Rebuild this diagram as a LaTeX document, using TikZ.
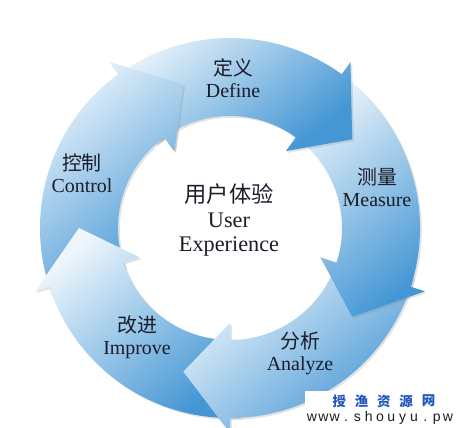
\documentclass[tikz,border=0pt]{standalone}
\usepackage{fontspec}
\setmainfont{Liberation Serif}
\newfontfamily\zhfont{Noto Sans CJK SC}
\newfontfamily\urlfont{Liberation Sans}
\usetikzlibrary{shadows}

\definecolor{palebl}{RGB}{238,246,252}
\definecolor{midbl}{RGB}{68,150,212}
\definecolor{txt}{RGB}{28,28,40}
\definecolor{wmbl}{RGB}{34,86,190}

\newcommand{\ringarrow}[1]{({#1+75}:190) arc[start angle={#1+75}, end angle={#1}, radius=190]
  -- ({#1}:205) -- ({#1-18}:151) -- ({#1}:95) -- ({#1}:112)
  arc[start angle={#1}, end angle={#1+75}, radius=112] -- cycle}

\begin{document}
\begin{tikzpicture}[x=0.03cm, y=0.03cm,
  arw/.style={top color=palebl, bottom color=midbl, shading angle=40,
    drop shadow={opacity=.22, shadow xshift=1.5pt, shadow yshift=-1.5pt}},
  lbl/.style={align=center, text=txt, font=\fontsize{17}{19}\selectfont},
  mid/.style={align=center, text=txt, font=\fontsize{19}{21}\selectfont}]
\useasboundingbox (-230,-199) rectangle (228,228);
% five arrows, the last one drawn on top
\foreach \b in {126,198,270,342,414}{
  \path[arw] \ringarrow{\b};
}
% head of the control arrow over the tail of define
\begin{scope}
\clip (0,0) -- (100:260) arc[start angle=100, end angle=131, radius=260] -- cycle;
\path[arw] \ringarrow{126};
\end{scope}

\node[lbl] (def) at (3,150) {{\zhfont 定义}\\Define};
\node[lbl] (mea) at (147,41) {{\zhfont 测量}\\Measure};
\node[lbl] (ana) at (70,-125) {{\zhfont 分析}\\Analyze};
\node[lbl] (imp) at (-93,-109) {{\zhfont 改进}\\Improve};
\node[lbl] (con) at (-148,55) {{\zhfont 控制}\\Control};
\node[mid] (ux) at (-1,8) {{\zhfont 用户体验}\\User\\Experience};

% watermark
\fill[white] (75,-163) rectangle (228,-199);
\foreach \c [count=\i] in {授,渔,资,源,网}
  \node[text=wmbl, inner sep=0pt, font=\zhfont\bfseries\fontsize{11.5}{11.5}\selectfont] (wm\i) at (87+22.3*\i,-173) {\c};
\foreach \c [count=\i] in {w,w,w,.,s,h,o,u,y,u,.,p,w}
  \node[text=txt, anchor=base, inner sep=0pt, font=\urlfont\fontsize{12}{12}\selectfont] (url\i) at (70.7+11.33*\i,-193) {\c};
\end{tikzpicture}
\end{document}
